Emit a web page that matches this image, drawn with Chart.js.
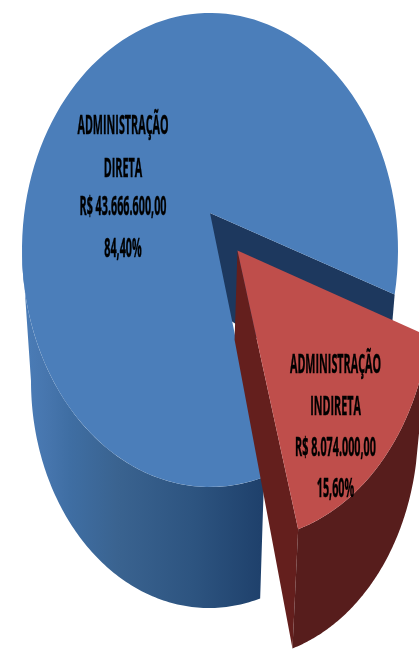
<!DOCTYPE html>
<html>
<head>
<meta charset="utf-8">
<style>html,body{margin:0;padding:0;background:#fff}canvas{display:block}</style>
<script src="https://cdn.jsdelivr.net/npm/chart.js@4"></script>
</head>
<body>
<canvas id="c" width="419" height="650"></canvas>
<script>
const categories = ['ADMINISTRAÇÃO DIRETA', 'ADMINISTRAÇÃO INDIRETA'];
const values = [43666600, 8074000];
const labelLines = [
  ['ADMINISTRAÇÃO', 'DIRETA', 'R$ 43.666.600,00', '84,40%'],
  ['ADMINISTRAÇÃO', 'INDIRETA', 'R$ 8.074.000,00', '15,60%']
];
const faceColors = ['#4b7eba', '#bf4e4b'];

const TOP = {cx: 210, cy: 250, rx: 188, ry: 237};
const BOT = {cx: 209, cy: 381, rx: 178, ry: 227};
const TILT = -0.156, TILT_APEX = -0.33, EXPLODE = 0.214;

function proj(px, py, t, e) {
  const den = 1 + t * py;
  return [e.cx + e.rx * px * Math.sqrt(1 - t * t) / den, e.cy + e.ry * (py + t) / den];
}
function rimPts(a0, a1, off, e) {
  const n = 120, pts = [];
  for (let i = 0; i <= n; i++) {
    const a = a0 + (a1 - a0) * i / n;
    pts.push(proj(off[0] + Math.cos(a), off[1] + Math.sin(a), TILT, e));
  }
  return pts;
}
function fillPoly(ctx, pts, fill) {
  ctx.beginPath();
  pts.forEach((p, i) => i ? ctx.lineTo(p[0], p[1]) : ctx.moveTo(p[0], p[1]));
  ctx.closePath();
  ctx.fillStyle = fill;
  ctx.fill();
}
function drawText(ctx, lines, x, ys) {
  ctx.save();
  ctx.fillStyle = '#000';
  ctx.strokeStyle = '#000';
  ctx.lineWidth = 0.25;
  ctx.font = 'bold 14px "Open Sans"';
  ctx.textAlign = 'center';
  ctx.textBaseline = 'alphabetic';
  lines.forEach((s, i) => {
    ctx.save();
    ctx.translate(x, ys[i]);
    ctx.scale(0.77, 1.95);
    ctx.fillText(s, 0, 0);
    ctx.strokeText(s, 0, 0);
    ctx.restore();
  });
  ctx.restore();
}

const pie3d = {
  id: 'pie3d',
  beforeDatasetDraw(chart, args) {
    const ctx = chart.ctx;
    const arcs = chart.getDatasetMeta(args.index).data;
    const blue = arcs[0], red = arcs[1];
    const mid = (red.startAngle + red.endAngle) / 2;
    const off = [EXPLODE * Math.cos(mid), EXPLODE * Math.sin(mid)];
    const zero = [0, 0];

    // blue front side, up to the left tangent of the ellipse
    const bEnd = Math.PI - 0.157;
    const sideGrad = ctx.createLinearGradient(22, 0, 260, 0);
    sideGrad.addColorStop(0, '#4b7db8');
    sideGrad.addColorStop(0.1, '#4776ae');
    sideGrad.addColorStop(0.2, '#3f6ea3');
    sideGrad.addColorStop(0.4, '#3a6390');
    sideGrad.addColorStop(0.72, '#2d5480');
    sideGrad.addColorStop(1, '#1f416c');
    fillPoly(ctx, rimPts(blue.startAngle, bEnd, zero, TOP)
      .concat(rimPts(blue.startAngle, bEnd, zero, BOT).reverse()), sideGrad);

    // blue inner wall
    const aTop = proj(0, 0, TILT, TOP), aBot = proj(0, 0, TILT_APEX, BOT);
    const wallA = blue.endAngle;
    const wallTop = proj(Math.cos(wallA), Math.sin(wallA), TILT, TOP);
    const wallBot = proj(Math.cos(wallA), Math.sin(wallA), TILT, BOT);
    fillPoly(ctx, [aTop, wallTop, wallBot, aBot], '#1d385e');

    // blue face
    fillPoly(ctx, [aTop].concat(rimPts(blue.startAngle, blue.endAngle, zero, TOP)), blue.options.backgroundColor);

    // red end wall
    const rTop = proj(off[0], off[1], TILT, TOP), rBot = proj(off[0], off[1], TILT_APEX, BOT);
    const ea = red.endAngle;
    fillPoly(ctx, [rTop,
      proj(off[0] + Math.cos(ea), off[1] + Math.sin(ea), TILT, TOP),
      proj(off[0] + Math.cos(ea), off[1] + Math.sin(ea), TILT, BOT), rBot], '#641f1d');

    // red front side
    fillPoly(ctx, rimPts(red.startAngle, red.endAngle, off, TOP)
      .concat(rimPts(red.startAngle, red.endAngle, off, BOT).reverse()), '#571d1c');

    // red face
    fillPoly(ctx, [rTop].concat(rimPts(red.startAngle, red.endAngle, off, TOP)), red.options.backgroundColor);

    drawText(ctx, labelLines[0], 123, [134, 177, 215, 257]);
    drawText(ctx, labelLines[1], 335.5, [373, 415, 456, 497]);
    return false;
  }
};

new Chart(document.getElementById('c'), {
  type: 'pie',
  data: {
    labels: categories,
    datasets: [{data: values, backgroundColor: faceColors, borderWidth: 0}]
  },
  options: {
    responsive: false,
    animation: false,
    rotation: 165.7,
    layout: {padding: 0},
    plugins: {legend: {display: false}, tooltip: {enabled: false}}
  },
  plugins: [pie3d]
});
</script>
</body>
</html>
